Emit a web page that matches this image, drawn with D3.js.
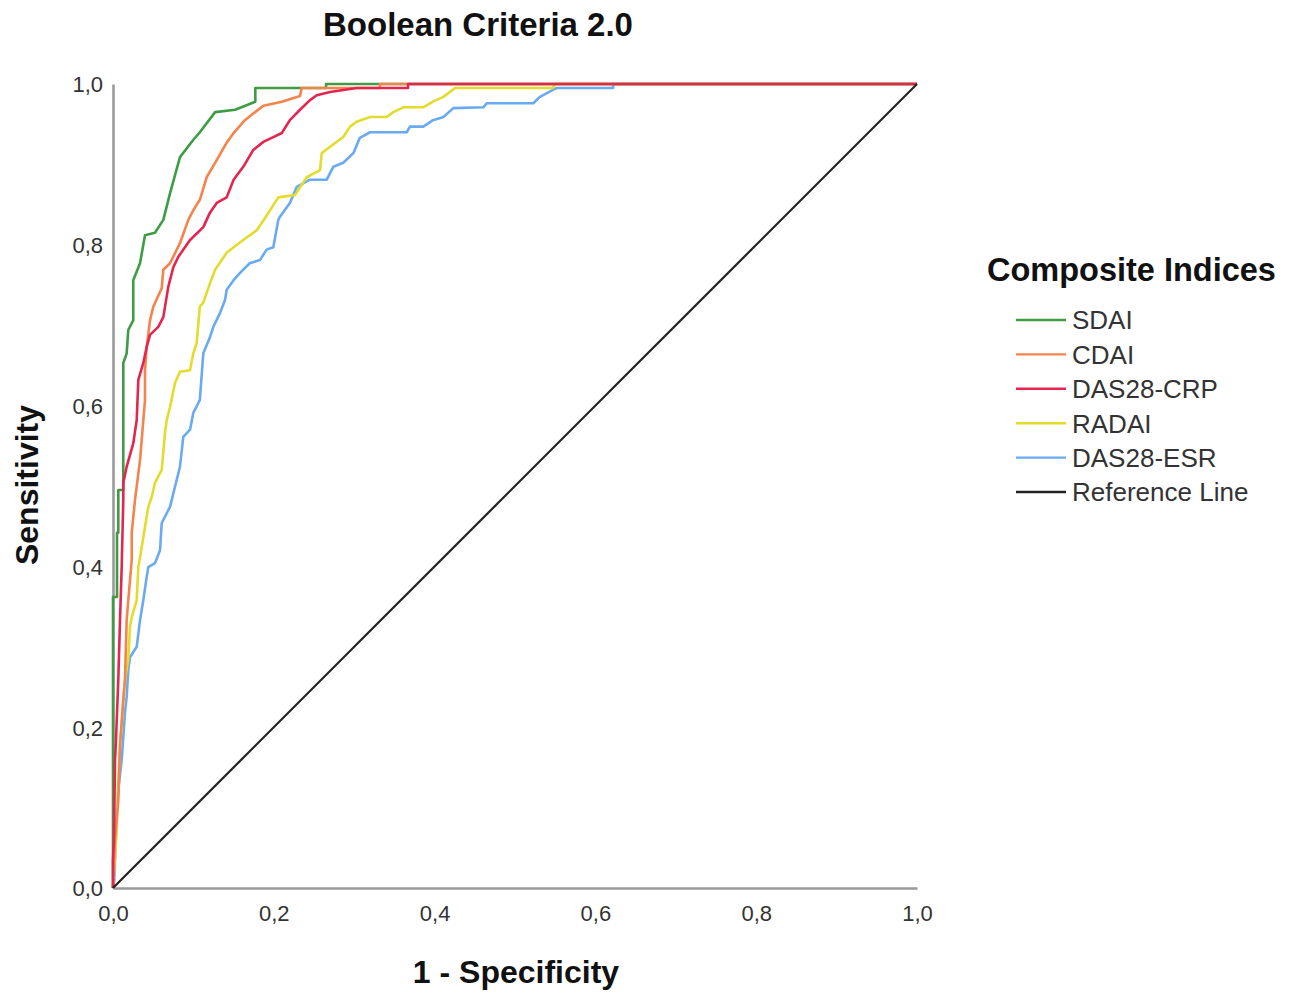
<!DOCTYPE html>
<html>
<head>
<meta charset="utf-8">
<script src="https://cdn.jsdelivr.net/npm/d3@7"></script>
<style>
  html, body { margin: 0; padding: 0; background: #fff; }
  svg { display: block; }
  text { font-family: "Liberation Sans", Arial, sans-serif; }
</style>
</head>
<body>
<svg id="chart" width="1290" height="994"></svg>
<script>
// ---- data ----
const title = "Boolean Criteria 2.0";
const xTitle = "1 - Specificity";
const yTitle = "Sensitivity";
const legendTitle = "Composite Indices";
const tickValues = [0, 0.2, 0.4, 0.6, 0.8, 1.0];
const tickLabels = ["0,0", "0,2", "0,4", "0,6", "0,8", "1,0"];

const seriesNames = ["SDAI", "CDAI", "DAS28-CRP", "RADAI", "DAS28-ESR", "Reference Line"];
const seriesColors = ["#3f9c45", "#f5834c", "#e2264f", "#e4dc2c", "#6aaaf0", "#222222"];

const sdai = [
  [0,0],[0,0.362],[0.005,0.362],[0.005,0.442],[0.0066,0.442],[0.0066,0.495],[0.0128,0.495],
  [0.0128,0.653],[0.017,0.665],[0.019,0.694],[0.0252,0.706],[0.0252,0.756],[0.0336,0.777],
  [0.0398,0.812],[0.0522,0.815],[0.0626,0.831],[0.0709,0.864],[0.0833,0.909],[0.0995,0.930],
  [0.108,0.940],[0.127,0.965],[0.152,0.968],[0.177,0.978],[0.177,0.995],[0.265,0.995],
  [0.265,1],[1,1]
];
const cdai = [
  [0,0],[0.0025,0.060],[0.0066,0.109],[0.0087,0.177],[0.0128,0.234],[0.0149,0.259],
  [0.017,0.333],[0.019,0.358],[0.0233,0.408],[0.0233,0.442],[0.0274,0.483],[0.0336,0.532],
  [0.0398,0.607],[0.0398,0.644],[0.0419,0.673],[0.046,0.706],[0.0501,0.723],[0.0606,0.746],
  [0.0626,0.769],[0.0709,0.777],[0.0833,0.802],[0.0937,0.831],[0.0999,0.843],[0.108,0.856],
  [0.1165,0.884],[0.127,0.902],[0.1414,0.927],[0.150,0.939],[0.164,0.955],[0.187,0.973],
  [0.210,0.978],[0.2326,0.985],[0.2347,0.995],[0.332,0.995],[0.332,1],[1,1]
];
const das28crp = [
  [0,0],[0,0.035],[0.0012,0.060],[0.0025,0.159],[0.0037,0.184],[0.0066,0.259],[0.0087,0.333],
  [0.0108,0.399],[0.0128,0.483],[0.0128,0.504],[0.017,0.524],[0.0252,0.553],[0.0295,0.582],
  [0.0315,0.632],[0.0377,0.653],[0.0419,0.673],[0.046,0.688],[0.0563,0.698],[0.0626,0.710],
  [0.0688,0.748],[0.075,0.772],[0.0812,0.785],[0.0958,0.806],[0.1123,0.822],[0.1206,0.840],
  [0.129,0.852],[0.1414,0.859],[0.150,0.881],[0.162,0.897],[0.1745,0.918],[0.187,0.928],
  [0.1994,0.934],[0.210,0.939],[0.220,0.955],[0.2326,0.968],[0.245,0.980],[0.2534,0.986],
  [0.27,0.990],[0.303,0.995],[0.367,0.995],[0.367,1],[1,1]
];
const radai = [
  [0,0],[0.0046,0.072],[0.0066,0.134],[0.0087,0.175],[0.0128,0.234],[0.0149,0.259],
  [0.019,0.284],[0.0211,0.325],[0.0233,0.337],[0.0295,0.358],[0.0315,0.399],[0.0357,0.424],
  [0.0398,0.449],[0.0439,0.474],[0.0481,0.486],[0.0522,0.504],[0.0606,0.520],[0.0647,0.566],
  [0.0668,0.582],[0.0709,0.598],[0.0771,0.628],[0.0833,0.642],[0.0958,0.644],[0.0999,0.665],
  [0.1041,0.678],[0.108,0.723],[0.1123,0.728],[0.1206,0.752],[0.127,0.769],[0.1414,0.790],
  [0.150,0.797],[0.162,0.806],[0.1787,0.818],[0.189,0.833],[0.2056,0.859],[0.2264,0.862],
  [0.241,0.884],[0.2575,0.893],[0.2596,0.914],[0.270,0.922],[0.2864,0.934],[0.2948,0.947],
  [0.303,0.953],[0.3197,0.959],[0.3404,0.959],[0.3486,0.965],[0.361,0.971],[0.386,0.971],
  [0.398,0.978],[0.411,0.984],[0.4254,0.995],[0.547,0.995],[0.55,1],[1,1]
];
const das28esr = [
  [0,0],[0.0016,0.010],[0.0046,0.093],[0.0066,0.122],[0.0108,0.159],[0.0149,0.218],
  [0.017,0.238],[0.019,0.271],[0.0211,0.287],[0.0295,0.300],[0.0336,0.333],[0.0377,0.358],
  [0.0419,0.387],[0.0439,0.399],[0.0522,0.404],[0.0585,0.420],[0.0606,0.454],[0.0709,0.474],
  [0.0771,0.499],[0.0833,0.524],[0.0874,0.561],[0.0958,0.570],[0.0999,0.591],[0.108,0.607],
  [0.1123,0.665],[0.1206,0.685],[0.1248,0.698],[0.133,0.715],[0.1393,0.731],[0.1414,0.744],
  [0.150,0.756],[0.158,0.765],[0.170,0.777],[0.1828,0.781],[0.191,0.794],[0.1994,0.797],
  [0.2056,0.831],[0.2077,0.835],[0.220,0.852],[0.2285,0.872],[0.245,0.881],[0.2658,0.881],
  [0.274,0.897],[0.2864,0.902],[0.299,0.914],[0.307,0.933],[0.3197,0.940],[0.3653,0.940],
  [0.3694,0.947],[0.386,0.947],[0.398,0.955],[0.411,0.959],[0.4233,0.970],[0.4606,0.971],
  [0.4648,0.976],[0.5228,0.976],[0.531,0.984],[0.5477,0.993],[0.552,0.995],[0.622,0.995],
  [0.622,1],[1,1]
];
const referenceLine = [[0,0],[1,1]];

const seriesData = [sdai, cdai, das28crp, radai, das28esr, referenceLine];
// draw order (first = bottom)
const drawOrder = [4, 3, 0, 1, 2, 5];

// ---- layout ----
const svg = d3.select("#chart");
const m = { left: 113, top: 84 };
const W = 804, H = 804;

const x = d3.scaleLinear().domain([0, 1]).range([m.left, m.left + W]);
const y = d3.scaleLinear().domain([0, 1]).range([m.top + H, m.top]);

// title
svg.append("text")
  .attr("x", 478).attr("y", 36)
  .attr("text-anchor", "middle")
  .attr("font-size", 33).attr("font-weight", "bold").attr("fill", "#111")
  .text(title);

// axes
const fmt = d => tickLabels[tickValues.indexOf(d)];
const xAxis = svg.append("g")
  .attr("transform", `translate(0,${m.top + H})`)
  .call(d3.axisBottom(x).tickValues(tickValues).tickFormat(fmt).tickSize(0).tickSizeOuter(0).tickPadding(17));
const yAxis = svg.append("g")
  .attr("transform", `translate(${m.left},0)`)
  .call(d3.axisLeft(y).tickValues(tickValues).tickFormat(fmt).tickSize(0).tickSizeOuter(0).tickPadding(10));

[xAxis, yAxis].forEach(g => {
  g.select(".domain").attr("stroke", "#9a9a9a").attr("stroke-width", 2.6);
  g.selectAll(".tick text")
    .attr("font-family", "'Liberation Sans', Arial, sans-serif")
    .attr("font-size", 22).attr("fill", "#333");
});
yAxis.selectAll(".tick text").attr("dy", "0.36em");

// axis titles
svg.append("text")
  .attr("x", 516).attr("y", 983)
  .attr("text-anchor", "middle")
  .attr("font-size", 32).attr("font-weight", "bold").attr("fill", "#111")
  .text(xTitle);
svg.append("text")
  .attr("transform", `translate(38,${485}) rotate(-90)`)
  .attr("text-anchor", "middle")
  .attr("font-size", 32).attr("font-weight", "bold").attr("fill", "#111")
  .text(yTitle);

// curves
const line = d3.line().x(d => x(d[0])).y(d => y(d[1]));
svg.append("g")
  .selectAll("path")
  .data(drawOrder)
  .join("path")
  .attr("d", i => line(seriesData[i]))
  .attr("fill", "none")
  .attr("stroke", i => seriesColors[i])
  .attr("stroke-width", i => i === 5 ? 2.2 : 2.6)
  .attr("stroke-linejoin", "round");

// legend
svg.append("text")
  .attr("x", 987).attr("y", 281)
  .attr("font-size", 32.5).attr("font-weight", "bold").attr("fill", "#111")
  .text(legendTitle);

const lg = svg.append("g")
  .selectAll("g")
  .data(seriesNames)
  .join("g")
  .attr("transform", (d, i) => `translate(1016,${320 + i * 34.4})`);
lg.append("line")
  .attr("x1", 0).attr("x2", 50)
  .attr("stroke", (d, i) => seriesColors[i])
  .attr("stroke-width", 2.4);
lg.append("text")
  .attr("x", 56).attr("dy", "0.36em")
  .attr("font-size", 26).attr("fill", "#333")
  .text(d => d);
</script>
</body>
</html>
